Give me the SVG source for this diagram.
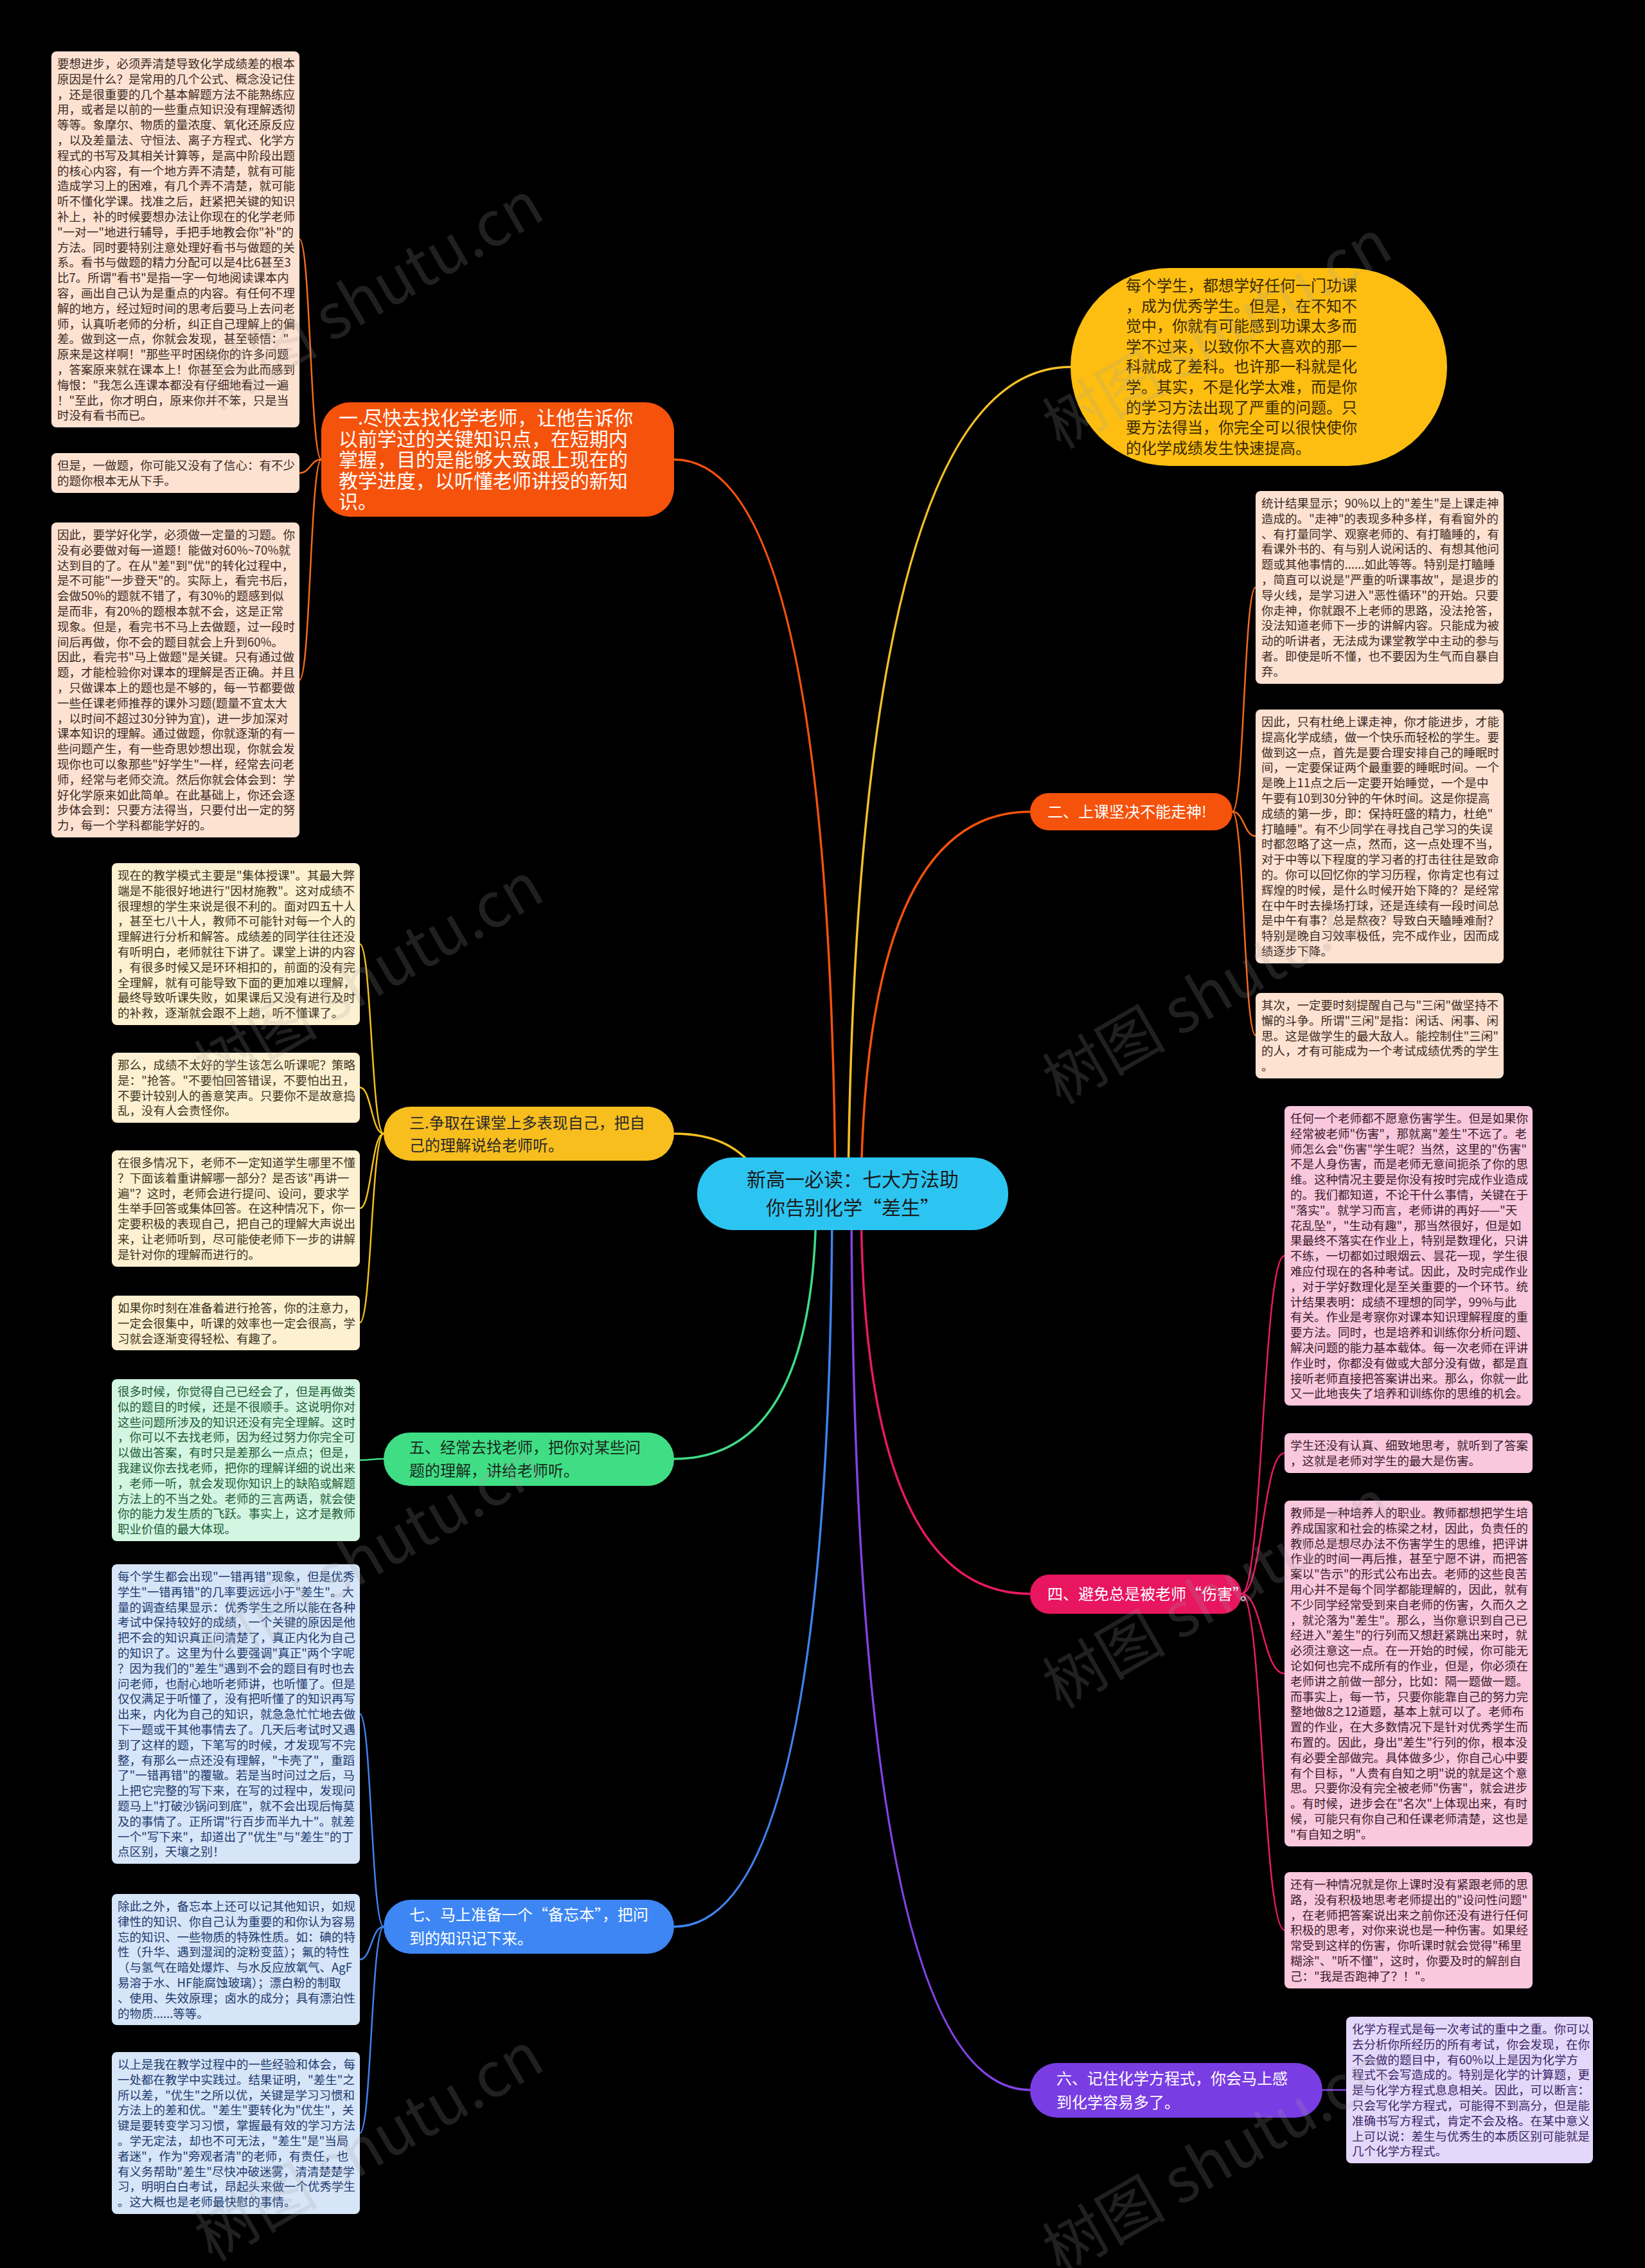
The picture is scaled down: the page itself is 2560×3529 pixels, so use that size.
<svg xmlns="http://www.w3.org/2000/svg" width="2560" height="3529" viewBox="0 0 2560 3529">
<style>
text{font-family:"Noto Sans CJK SC","Noto Sans",sans-serif}
.b{font-size:18.5px}
.tp{font-size:24px}
.c1{fill:#3c2a22}.c3{fill:#3d3420}.c5{fill:#1d5c36}.c7{fill:#1c3a6e}.c4{fill:#3b1c2c}.c6{fill:#3a2566}
.f1{fill:#fde2d2}.f3{fill:#fef1d2}.f5{fill:#d3f6e2}.f7{fill:#d7e5f8}.f4{fill:#f9c8dd}.f6{fill:#e4d8fa}
.ln{fill:none;stroke-width:2.5}
.mn{fill:none;stroke-width:3.5}
.wm{font-size:96px;fill:#a0a0a0;fill-opacity:0.2}
</style>
<rect width="2560" height="3529" fill="#000"/>
<g id="connectors">
<path class="mn" stroke="#f5520c" d="M1049,715 Q1290,715 1300,1840"/>
<path class="mn" stroke="#f6c026" d="M1666,571 Q1335,571 1320,1840"/>
<path class="mn" stroke="#f5520c" d="M1603,1263 Q1350,1263 1340,1840"/>
<path class="mn" stroke="#f3c01f" d="M1049,1764 C1120,1764 1160,1790 1190,1840"/>
<path class="mn" stroke="#3edb86" d="M1049,2270 Q1265,2270 1270,1880"/>
<path class="mn" stroke="#3f83f0" d="M1049,2998 Q1290,2998 1295,1880"/>
<path class="mn" stroke="#e81a64" d="M1603,2480 Q1345,2480 1340,1880"/>
<path class="mn" stroke="#8243e6" d="M1603,3252 Q1330,3252 1325,1880"/>
<path class="ln" stroke="#f26b1d" d="M500,715 C483,715 483,372 466,372"/>
<path class="ln" stroke="#f26b1d" d="M500,715 C483,715 483,736 466,736"/>
<path class="ln" stroke="#f26b1d" d="M500,715 C483,715 483,1058 466,1058"/>
<path class="ln" stroke="#f3c01f" d="M597,1764 C578,1764 578,1469 560,1469"/>
<path class="ln" stroke="#f3c01f" d="M597,1764 C578,1764 578,1692 560,1692"/>
<path class="ln" stroke="#f3c01f" d="M597,1764 C578,1764 578,1880 560,1880"/>
<path class="ln" stroke="#f3c01f" d="M597,1764 C578,1764 578,2058 560,2058"/>
<path class="ln" stroke="#3edb86" d="M597,2270 C578,2270 578,2272 560,2272"/>
<path class="ln" stroke="#3f83f0" d="M597,2998 C578,2998 578,2667 560,2667"/>
<path class="ln" stroke="#3f83f0" d="M597,2998 C578,2998 578,3049 560,3049"/>
<path class="ln" stroke="#3f83f0" d="M597,2998 C578,2998 578,3319 560,3319"/>
<path class="ln" stroke="#f26b1d" d="M1918,1263 C1936,1263 1936,914 1954,914"/>
<path class="ln" stroke="#f26b1d" d="M1918,1263 C1936,1263 1936,1301 1954,1301"/>
<path class="ln" stroke="#f26b1d" d="M1918,1263 C1936,1263 1936,1611 1954,1611"/>
<path class="ln" stroke="#e81a64" d="M1932,2480 C1965,2480 1965,1954 1999,1954"/>
<path class="ln" stroke="#e81a64" d="M1932,2480 C1965,2480 1965,2261 1999,2261"/>
<path class="ln" stroke="#e81a64" d="M1932,2480 C1965,2480 1965,2604 1999,2604"/>
<path class="ln" stroke="#e81a64" d="M1932,2480 C1965,2480 1965,3003 1999,3003"/>
<path class="ln" stroke="#8243e6" d="M2058,3252 L2095,3252"/>
</g>
<g id="center">
<rect x="1085" y="1801" width="484" height="113" rx="56" fill="#2cc5f2"/>
<text x="1327" y="1846" font-size="30" fill="#1a1a1a" text-anchor="middle"><tspan x="1327">新高一必读：七大方法助</tspan><tspan x="1327" dy="44">你告别化学“差生”</tspan></text>
</g>
<g id="intro">
<rect x="1666" y="417" width="586" height="308" rx="154" fill="#fdbe11"/>
<text class="tp" fill="#3a2a00" x="1752" y="453"><tspan x="1752">每个学生，都想学好任何一门功课</tspan><tspan x="1752" dy="31.6">，成为优秀学生。但是，在不知不</tspan><tspan x="1752" dy="31.6">觉中，你就有可能感到功课太多而</tspan><tspan x="1752" dy="31.6">学不过来，以致你不大喜欢的那一</tspan><tspan x="1752" dy="31.6">科就成了差科。也许那一科就是化</tspan><tspan x="1752" dy="31.6">学。其实，不是化学太难，而是你</tspan><tspan x="1752" dy="31.6">的学习方法出现了严重的问题。只</tspan><tspan x="1752" dy="31.6">要方法得当，你完全可以很快使你</tspan><tspan x="1752" dy="31.6">的化学成绩发生快速提高。</tspan></text>
</g>
<g id="topic1">
<rect x="500" y="626" width="549" height="178" rx="45" fill="#f5520c"/>
<text font-size="30" fill="#fff" x="527" y="661"><tspan x="527">一.尽快去找化学老师，让他告诉你</tspan><tspan x="527" dy="32.6">以前学过的关键知识点，在短期内</tspan><tspan x="527" dy="32.6">掌握，目的是能够大致跟上现在的</tspan><tspan x="527" dy="32.6">教学进度，以听懂老师讲授的新知</tspan><tspan x="527" dy="32.6">识。</tspan></text>
</g>
<g id="topic2">
<rect x="1603" y="1234" width="315" height="58" rx="29" fill="#f5520c"/>
<text class="tp" fill="#fff" x="1630" y="1272">二、上课坚决不能走神!</text>
</g>
<g id="topic3">
<rect x="597" y="1722" width="452" height="84" rx="42" fill="#f7be1e"/>
<text class="tp" fill="#2a2a2a" x="637" y="1756"><tspan x="637">三.争取在课堂上多表现自己，把自</tspan><tspan x="637" dy="35">己的理解说给老师听。</tspan></text>
</g>
<g id="topic4">
<rect x="1603" y="2450" width="329" height="61" rx="30" fill="#e8155f"/>
<text class="tp" fill="#fff" x="1630" y="2489">四、避免总是被老师“伤害”。</text>
</g>
<g id="topic5">
<rect x="597" y="2229" width="452" height="83" rx="41" fill="#3fde85"/>
<text class="tp" fill="#1a2a20" x="637" y="2261"><tspan x="637">五、经常去找老师，把你对某些问</tspan><tspan x="637" dy="36">题的理解，讲给老师听。</tspan></text>
</g>
<g id="topic6">
<rect x="1603" y="3210" width="455" height="85" rx="42" fill="#7a3de3"/>
<text class="tp" fill="#fff" x="1644" y="3243"><tspan x="1644">六、记住化学方程式，你会马上感</tspan><tspan x="1644" dy="37">到化学容易多了。</tspan></text>
</g>
<g id="topic7">
<rect x="597" y="2956" width="452" height="84" rx="42" fill="#3d86f4"/>
<text class="tp" fill="#fff" x="637" y="2988"><tspan x="637">七、马上准备一个“备忘本”，把问</tspan><tspan x="637" dy="37">到的知识记下来。</tspan></text>
</g>
<g id="n1a">
<rect class="f1" x="80" y="80" width="386" height="585" rx="8"/>
<text class="b c1" x="89" y="106"><tspan x="89">要想进步，必须弄清楚导致化学成绩差的根本</tspan><tspan x="89" dy="23.8">原因是什么？是常用的几个公式、概念没记住</tspan><tspan x="89" dy="23.8">，还是很重要的几个基本解题方法不能熟练应</tspan><tspan x="89" dy="23.8">用，或者是以前的一些重点知识没有理解透彻</tspan><tspan x="89" dy="23.8">等等。象摩尔、物质的量浓度、氧化还原反应</tspan><tspan x="89" dy="23.8">，以及差量法、守恒法、离子方程式、化学方</tspan><tspan x="89" dy="23.8">程式的书写及其相关计算等，是高中阶段出题</tspan><tspan x="89" dy="23.8">的核心内容，有一个地方弄不清楚，就有可能</tspan><tspan x="89" dy="23.8">造成学习上的困难，有几个弄不清楚，就可能</tspan><tspan x="89" dy="23.8">听不懂化学课。找准之后，赶紧把关键的知识</tspan><tspan x="89" dy="23.8">补上，补的时候要想办法让你现在的化学老师</tspan><tspan x="89" dy="23.8">"一对一"地进行辅导，手把手地教会你"补"的</tspan><tspan x="89" dy="23.8">方法。同时要特别注意处理好看书与做题的关</tspan><tspan x="89" dy="23.8">系。看书与做题的精力分配可以是4比6甚至3</tspan><tspan x="89" dy="23.8">比7。所谓"看书"是指一字一句地阅读课本内</tspan><tspan x="89" dy="23.8">容，画出自己认为是重点的内容。有任何不理</tspan><tspan x="89" dy="23.8">解的地方，经过短时间的思考后要马上去问老</tspan><tspan x="89" dy="23.8">师，认真听老师的分析，纠正自己理解上的偏</tspan><tspan x="89" dy="23.8">差。做到这一点，你就会发现，甚至顿悟："</tspan><tspan x="89" dy="23.8">原来是这样啊！"那些平时困绕你的许多问题</tspan><tspan x="89" dy="23.8">，答案原来就在课本上！你甚至会为此而感到</tspan><tspan x="89" dy="23.8">悔恨："我怎么连课本都没有仔细地看过一遍</tspan><tspan x="89" dy="23.8">！"至此，你才明白，原来你并不笨，只是当</tspan><tspan x="89" dy="23.8">时没有看书而已。</tspan></text>
</g>
<g id="n1b">
<rect class="f1" x="80" y="705" width="386" height="62" rx="8"/>
<text class="b c1" x="89" y="731"><tspan x="89">但是，一做题，你可能又没有了信心：有不少</tspan><tspan x="89" dy="23.8">的题你根本无从下手。</tspan></text>
</g>
<g id="n1c">
<rect class="f1" x="80" y="813" width="386" height="490" rx="8"/>
<text class="b c1" x="89" y="839"><tspan x="89">因此，要学好化学，必须做一定量的习题。你</tspan><tspan x="89" dy="23.8">没有必要做对每一道题！能做对60%~70%就</tspan><tspan x="89" dy="23.8">达到目的了。在从"差"到"优"的转化过程中，</tspan><tspan x="89" dy="23.8">是不可能"一步登天"的。实际上，看完书后，</tspan><tspan x="89" dy="23.8">会做50%的题就不错了，有30%的题感到似</tspan><tspan x="89" dy="23.8">是而非，有20%的题根本就不会，这是正常</tspan><tspan x="89" dy="23.8">现象。但是，看完书不马上去做题，过一段时</tspan><tspan x="89" dy="23.8">间后再做，你不会的题目就会上升到60%。</tspan><tspan x="89" dy="23.8">因此，看完书"马上做题"是关键。只有通过做</tspan><tspan x="89" dy="23.8">题，才能检验你对课本的理解是否正确。并且</tspan><tspan x="89" dy="23.8">，只做课本上的题也是不够的，每一节都要做</tspan><tspan x="89" dy="23.8">一些任课老师推荐的课外习题(题量不宜太大</tspan><tspan x="89" dy="23.8">，以时间不超过30分钟为宜)，进一步加深对</tspan><tspan x="89" dy="23.8">课本知识的理解。通过做题，你就逐渐的有一</tspan><tspan x="89" dy="23.8">些问题产生，有一些奇思妙想出现，你就会发</tspan><tspan x="89" dy="23.8">现你也可以象那些"好学生"一样，经常去问老</tspan><tspan x="89" dy="23.8">师，经常与老师交流。然后你就会体会到：学</tspan><tspan x="89" dy="23.8">好化学原来如此简单。在此基础上，你还会逐</tspan><tspan x="89" dy="23.8">步体会到：只要方法得当，只要付出一定的努</tspan><tspan x="89" dy="23.8">力，每一个学科都能学好的。</tspan></text>
</g>
<g id="n3a">
<rect class="f3" x="174" y="1343" width="386" height="252" rx="8"/>
<text class="b c3" x="183" y="1369"><tspan x="183">现在的教学模式主要是"集体授课"。其最大弊</tspan><tspan x="183" dy="23.8">端是不能很好地进行"因材施教"。这对成绩不</tspan><tspan x="183" dy="23.8">很理想的学生来说是很不利的。面对四五十人</tspan><tspan x="183" dy="23.8">，甚至七八十人，教师不可能针对每一个人的</tspan><tspan x="183" dy="23.8">理解进行分析和解答。成绩差的同学往往还没</tspan><tspan x="183" dy="23.8">有听明白，老师就往下讲了。课堂上讲的内容</tspan><tspan x="183" dy="23.8">，有很多时候又是环环相扣的，前面的没有完</tspan><tspan x="183" dy="23.8">全理解，就有可能导致下面的更加难以理解，</tspan><tspan x="183" dy="23.8">最终导致听课失败，如果课后又没有进行及时</tspan><tspan x="183" dy="23.8">的补救，逐渐就会跟不上趟，听不懂课了。</tspan></text>
</g>
<g id="n3b">
<rect class="f3" x="174" y="1638" width="386" height="109" rx="8"/>
<text class="b c3" x="183" y="1664"><tspan x="183">那么，成绩不太好的学生该怎么听课呢？策略</tspan><tspan x="183" dy="23.8">是："抢答。"不要怕回答错误，不要怕出丑，</tspan><tspan x="183" dy="23.8">不要计较别人的善意笑声。只要你不是故意捣</tspan><tspan x="183" dy="23.8">乱，没有人会责怪你。</tspan></text>
</g>
<g id="n3c">
<rect class="f3" x="174" y="1790" width="386" height="181" rx="8"/>
<text class="b c3" x="183" y="1816"><tspan x="183">在很多情况下，老师不一定知道学生哪里不懂</tspan><tspan x="183" dy="23.8">？下面该着重讲解哪一部分？是否该"再讲一</tspan><tspan x="183" dy="23.8">遍"？这时，老师会进行提问、设问，要求学</tspan><tspan x="183" dy="23.8">生举手回答或集体回答。在这种情况下，你一</tspan><tspan x="183" dy="23.8">定要积极的表现自己，把自己的理解大声说出</tspan><tspan x="183" dy="23.8">来，让老师听到，尽可能使老师下一步的讲解</tspan><tspan x="183" dy="23.8">是针对你的理解而进行的。</tspan></text>
</g>
<g id="n3d">
<rect class="f3" x="174" y="2016" width="386" height="85" rx="8"/>
<text class="b c3" x="183" y="2042"><tspan x="183">如果你时刻在准备着进行抢答，你的注意力，</tspan><tspan x="183" dy="23.8">一定会很集中，听课的效率也一定会很高，学</tspan><tspan x="183" dy="23.8">习就会逐渐变得轻松、有趣了。</tspan></text>
</g>
<g id="n5a">
<rect class="f5" x="174" y="2146" width="386" height="252" rx="8"/>
<text class="b c5" x="183" y="2172"><tspan x="183">很多时候，你觉得自己已经会了，但是再做类</tspan><tspan x="183" dy="23.8">似的题目的时候，还是不很顺手。这说明你对</tspan><tspan x="183" dy="23.8">这些问题所涉及的知识还没有完全理解。这时</tspan><tspan x="183" dy="23.8">，你可以不去找老师，因为经过努力你完全可</tspan><tspan x="183" dy="23.8">以做出答案，有时只是差那么一点点；但是，</tspan><tspan x="183" dy="23.8">我建议你去找老师，把你的理解详细的说出来</tspan><tspan x="183" dy="23.8">，老师一听，就会发现你知识上的缺陷或解题</tspan><tspan x="183" dy="23.8">方法上的不当之处。老师的三言两语，就会使</tspan><tspan x="183" dy="23.8">你的能力发生质的飞跃。事实上，这才是教师</tspan><tspan x="183" dy="23.8">职业价值的最大体现。</tspan></text>
</g>
<g id="n7a">
<rect class="f7" x="174" y="2434" width="386" height="466" rx="8"/>
<text class="b c7" x="183" y="2460"><tspan x="183">每个学生都会出现"一错再错"现象，但是优秀</tspan><tspan x="183" dy="23.8">学生"一错再错"的几率要远远小于"差生"。大</tspan><tspan x="183" dy="23.8">量的调查结果显示：优秀学生之所以能在各种</tspan><tspan x="183" dy="23.8">考试中保持较好的成绩，一个关键的原因是他</tspan><tspan x="183" dy="23.8">把不会的知识真正问清楚了，真正内化为自己</tspan><tspan x="183" dy="23.8">的知识了。这里为什么要强调"真正"两个字呢</tspan><tspan x="183" dy="23.8">？因为我们的"差生"遇到不会的题目有时也去</tspan><tspan x="183" dy="23.8">问老师，也耐心地听老师讲，也听懂了。但是</tspan><tspan x="183" dy="23.8">仅仅满足于听懂了，没有把听懂了的知识再写</tspan><tspan x="183" dy="23.8">出来，内化为自己的知识，就急急忙忙地去做</tspan><tspan x="183" dy="23.8">下一题或干其他事情去了。几天后考试时又遇</tspan><tspan x="183" dy="23.8">到了这样的题，下笔写的时候，才发现写不完</tspan><tspan x="183" dy="23.8">整，有那么一点还没有理解，"卡壳了"，重蹈</tspan><tspan x="183" dy="23.8">了"一错再错"的覆辙。若是当时问过之后，马</tspan><tspan x="183" dy="23.8">上把它完整的写下来，在写的过程中，发现问</tspan><tspan x="183" dy="23.8">题马上"打破沙锅问到底"，就不会出现后悔莫</tspan><tspan x="183" dy="23.8">及的事情了。正所谓"行百步而半九十"。就差</tspan><tspan x="183" dy="23.8">一个"写下来"，却道出了"优生"与"差生"的丁</tspan><tspan x="183" dy="23.8">点区别，天壤之别！</tspan></text>
</g>
<g id="n7b">
<rect class="f7" x="174" y="2947" width="386" height="204" rx="8"/>
<text class="b c7" x="183" y="2973"><tspan x="183">除此之外，备忘本上还可以记其他知识，如规</tspan><tspan x="183" dy="23.8">律性的知识、你自己认为重要的和你认为容易</tspan><tspan x="183" dy="23.8">忘的知识、一些物质的特殊性质。如：碘的特</tspan><tspan x="183" dy="23.8">性（升华、遇到湿润的淀粉变蓝）；氟的特性</tspan><tspan x="183" dy="23.8">（与氢气在暗处爆炸、与水反应放氧气、AgF</tspan><tspan x="183" dy="23.8">易溶于水、HF能腐蚀玻璃）；漂白粉的制取</tspan><tspan x="183" dy="23.8">、使用、失效原理；卤水的成分；具有漂泊性</tspan><tspan x="183" dy="23.8">的物质......等等。</tspan></text>
</g>
<g id="n7c">
<rect class="f7" x="174" y="3193" width="386" height="252" rx="8"/>
<text class="b c7" x="183" y="3219"><tspan x="183">以上是我在教学过程中的一些经验和体会，每</tspan><tspan x="183" dy="23.8">一处都在教学中实践过。结果证明，"差生"之</tspan><tspan x="183" dy="23.8">所以差，"优生"之所以优，关键是学习习惯和</tspan><tspan x="183" dy="23.8">方法上的差和优。"差生"要转化为"优生"，关</tspan><tspan x="183" dy="23.8">键是要转变学习习惯，掌握最有效的学习方法</tspan><tspan x="183" dy="23.8">。学无定法，却也不可无法，"差生"是"当局</tspan><tspan x="183" dy="23.8">者迷"，作为"旁观者清"的老师，有责任，也</tspan><tspan x="183" dy="23.8">有义务帮助"差生"尽快冲破迷雾，清清楚楚学</tspan><tspan x="183" dy="23.8">习，明明白白考试，昂起头来做一个优秀学生</tspan><tspan x="183" dy="23.8">。这大概也是老师最快慰的事情。</tspan></text>
</g>
<g id="n2a">
<rect class="f1" x="1954" y="764" width="386" height="300" rx="8"/>
<text class="b c1" x="1963" y="790"><tspan x="1963">统计结果显示；90%以上的"差生"是上课走神</tspan><tspan x="1963" dy="23.8">造成的。"走神"的表现多种多样，有看窗外的</tspan><tspan x="1963" dy="23.8">、有打量同学、观察老师的、有打瞌睡的，有</tspan><tspan x="1963" dy="23.8">看课外书的、有与别人说闲话的、有想其他问</tspan><tspan x="1963" dy="23.8">题或其他事情的......如此等等。特别是打瞌睡</tspan><tspan x="1963" dy="23.8">，简直可以说是"严重的听课事故"，是退步的</tspan><tspan x="1963" dy="23.8">导火线，是学习进入"恶性循环"的开始。只要</tspan><tspan x="1963" dy="23.8">你走神，你就跟不上老师的思路，没法抢答，</tspan><tspan x="1963" dy="23.8">没法知道老师下一步的讲解内容。只能成为被</tspan><tspan x="1963" dy="23.8">动的听讲者，无法成为课堂教学中主动的参与</tspan><tspan x="1963" dy="23.8">者。即使是听不懂，也不要因为生气而自暴自</tspan><tspan x="1963" dy="23.8">弃。</tspan></text>
</g>
<g id="n2b">
<rect class="f1" x="1954" y="1104" width="386" height="395" rx="8"/>
<text class="b c1" x="1963" y="1130"><tspan x="1963">因此，只有杜绝上课走神，你才能进步，才能</tspan><tspan x="1963" dy="23.8">提高化学成绩，做一个快乐而轻松的学生。要</tspan><tspan x="1963" dy="23.8">做到这一点，首先是要合理安排自己的睡眠时</tspan><tspan x="1963" dy="23.8">间，一定要保证两个最重要的睡眠时间。一个</tspan><tspan x="1963" dy="23.8">是晚上11点之后一定要开始睡觉，一个是中</tspan><tspan x="1963" dy="23.8">午要有10到30分钟的午休时间。这是你提高</tspan><tspan x="1963" dy="23.8">成绩的第一步，即：保持旺盛的精力，杜绝"</tspan><tspan x="1963" dy="23.8">打瞌睡"。有不少同学在寻找自己学习的失误</tspan><tspan x="1963" dy="23.8">时都忽略了这一点，然而，这一点处理不当，</tspan><tspan x="1963" dy="23.8">对于中等以下程度的学习者的打击往往是致命</tspan><tspan x="1963" dy="23.8">的。你可以回忆你的学习历程，你肯定也有过</tspan><tspan x="1963" dy="23.8">辉煌的时候，是什么时候开始下降的？是经常</tspan><tspan x="1963" dy="23.8">在中午时去操场打球，还是连续有一段时间总</tspan><tspan x="1963" dy="23.8">是中午有事？总是熬夜？导致白天瞌睡难耐？</tspan><tspan x="1963" dy="23.8">特别是晚自习效率极低，完不成作业，因而成</tspan><tspan x="1963" dy="23.8">绩逐步下降。</tspan></text>
</g>
<g id="n2c">
<rect class="f1" x="1954" y="1545" width="386" height="133" rx="8"/>
<text class="b c1" x="1963" y="1571"><tspan x="1963">其次，一定要时刻提醒自己与"三闲"做坚持不</tspan><tspan x="1963" dy="23.8">懈的斗争。所谓"三闲"是指：闲话、闲事、闲</tspan><tspan x="1963" dy="23.8">思。这是做学生的最大敌人。能控制住"三闲"</tspan><tspan x="1963" dy="23.8">的人，才有可能成为一个考试成绩优秀的学生</tspan><tspan x="1963" dy="23.8">。</tspan></text>
</g>
<g id="n4a">
<rect class="f4" x="1999" y="1721" width="386" height="466" rx="8"/>
<text class="b c4" x="2008" y="1747"><tspan x="2008">任何一个老师都不愿意伤害学生。但是如果你</tspan><tspan x="2008" dy="23.8">经常被老师"伤害"，那就离"差生"不远了。老</tspan><tspan x="2008" dy="23.8">师怎么会"伤害"学生呢？当然，这里的"伤害"</tspan><tspan x="2008" dy="23.8">不是人身伤害，而是老师无意间扼杀了你的思</tspan><tspan x="2008" dy="23.8">维。这种情况主要是你没有按时完成作业造成</tspan><tspan x="2008" dy="23.8">的。我们都知道，不论干什么事情，关键在于</tspan><tspan x="2008" dy="23.8">"落实"。就学习而言，老师讲的再好——"天</tspan><tspan x="2008" dy="23.8">花乱坠"，"生动有趣"，那当然很好，但是如</tspan><tspan x="2008" dy="23.8">果最终不落实在作业上，特别是数理化，只讲</tspan><tspan x="2008" dy="23.8">不练，一切都如过眼烟云、昙花一现，学生很</tspan><tspan x="2008" dy="23.8">难应付现在的各种考试。因此，及时完成作业</tspan><tspan x="2008" dy="23.8">，对于学好数理化是至关重要的一个环节。统</tspan><tspan x="2008" dy="23.8">计结果表明：成绩不理想的同学，99%与此</tspan><tspan x="2008" dy="23.8">有关。作业是考察你对课本知识理解程度的重</tspan><tspan x="2008" dy="23.8">要方法。同时，也是培养和训练你分析问题、</tspan><tspan x="2008" dy="23.8">解决问题的能力基本载体。每一次老师在评讲</tspan><tspan x="2008" dy="23.8">作业时，你都没有做或大部分没有做，都是直</tspan><tspan x="2008" dy="23.8">接听老师直接把答案讲出来。那么，你就一此</tspan><tspan x="2008" dy="23.8">又一此地丧失了培养和训练你的思维的机会。</tspan></text>
</g>
<g id="n4b">
<rect class="f4" x="1999" y="2230" width="386" height="62" rx="8"/>
<text class="b c4" x="2008" y="2256"><tspan x="2008">学生还没有认真、细致地思考，就听到了答案</tspan><tspan x="2008" dy="23.8">，这就是老师对学生的最大是伤害。</tspan></text>
</g>
<g id="n4c">
<rect class="f4" x="1999" y="2335" width="386" height="538" rx="8"/>
<text class="b c4" x="2008" y="2361"><tspan x="2008">教师是一种培养人的职业。教师都想把学生培</tspan><tspan x="2008" dy="23.8">养成国家和社会的栋梁之材，因此，负责任的</tspan><tspan x="2008" dy="23.8">教师总是想尽办法不伤害学生的思维，把评讲</tspan><tspan x="2008" dy="23.8">作业的时间一再后推，甚至宁愿不讲，而把答</tspan><tspan x="2008" dy="23.8">案以"告示"的形式公布出去。老师的这些良苦</tspan><tspan x="2008" dy="23.8">用心并不是每个同学都能理解的，因此，就有</tspan><tspan x="2008" dy="23.8">不少同学经常受到来自老师的伤害，久而久之</tspan><tspan x="2008" dy="23.8">，就沦落为"差生"。那么，当你意识到自己已</tspan><tspan x="2008" dy="23.8">经进入"差生"的行列而又想赶紧跳出来时，就</tspan><tspan x="2008" dy="23.8">必须注意这一点。在一开始的时候，你可能无</tspan><tspan x="2008" dy="23.8">论如何也完不成所有的作业，但是，你必须在</tspan><tspan x="2008" dy="23.8">老师讲之前做一部分，比如：隔一题做一题。</tspan><tspan x="2008" dy="23.8">而事实上，每一节，只要你能靠自己的努力完</tspan><tspan x="2008" dy="23.8">整地做8之12道题，基本上就可以了。老师布</tspan><tspan x="2008" dy="23.8">置的作业，在大多数情况下是针对优秀学生而</tspan><tspan x="2008" dy="23.8">布置的。因此，身出"差生"行列的你，根本没</tspan><tspan x="2008" dy="23.8">有必要全部做完。具体做多少，你自己心中要</tspan><tspan x="2008" dy="23.8">有个目标，"人贵有自知之明"说的就是这个意</tspan><tspan x="2008" dy="23.8">思。只要你没有完全被老师"伤害"，就会进步</tspan><tspan x="2008" dy="23.8">。有时候，进步会在"名次"上体现出来，有时</tspan><tspan x="2008" dy="23.8">候，可能只有你自己和任课老师清楚，这也是</tspan><tspan x="2008" dy="23.8">"有自知之明"。</tspan></text>
</g>
<g id="n4d">
<rect class="f4" x="1999" y="2913" width="386" height="181" rx="8"/>
<text class="b c4" x="2008" y="2939"><tspan x="2008">还有一种情况就是你上课时没有紧跟老师的思</tspan><tspan x="2008" dy="23.8">路，没有积极地思考老师提出的"设问性问题"</tspan><tspan x="2008" dy="23.8">，在老师把答案说出来之前你还没有进行任何</tspan><tspan x="2008" dy="23.8">积极的思考，对你来说也是一种伤害。如果经</tspan><tspan x="2008" dy="23.8">常受到这样的伤害，你听课时就会觉得"稀里</tspan><tspan x="2008" dy="23.8">糊涂"、"听不懂"，这时，你要及时的解剖自</tspan><tspan x="2008" dy="23.8">己："我是否跑神了？！"。</tspan></text>
</g>
<g id="n6a">
<rect class="f6" x="2095" y="3138" width="384" height="228" rx="8"/>
<text class="b c6" x="2104" y="3164"><tspan x="2104">化学方程式是每一次考试的重中之重。你可以</tspan><tspan x="2104" dy="23.8">去分析你所经历的所有考试，你会发现，在你</tspan><tspan x="2104" dy="23.8">不会做的题目中，有60%以上是因为化学方</tspan><tspan x="2104" dy="23.8">程式不会写造成的。特别是化学的计算题，更</tspan><tspan x="2104" dy="23.8">是与化学方程式息息相关。因此，可以断言：</tspan><tspan x="2104" dy="23.8">只会写化学方程式，可能得不到高分，但是能</tspan><tspan x="2104" dy="23.8">准确书写方程式，肯定不会及格。在某中意义</tspan><tspan x="2104" dy="23.8">上可以说：差生与优秀生的本质区别可能就是</tspan><tspan x="2104" dy="23.8">几个化学方程式。</tspan></text>
</g>
<g id="watermarks">
<text class="wm" transform="translate(330,640) rotate(-30)">树图 shutu.cn</text>
<text class="wm" transform="translate(1650,700) rotate(-30)">树图 shutu.cn</text>
<text class="wm" transform="translate(330,1700) rotate(-30)">树图 shutu.cn</text>
<text class="wm" transform="translate(1650,1720) rotate(-30)">树图 shutu.cn</text>
<text class="wm" transform="translate(330,2600) rotate(-30)">树图 shutu.cn</text>
<text class="wm" transform="translate(1650,2660) rotate(-30)">树图 shutu.cn</text>
<text class="wm" transform="translate(330,3520) rotate(-30)">树图 shutu.cn</text>
<text class="wm" transform="translate(1650,3540) rotate(-30)">树图 shutu.cn</text>
</g>
</svg>
